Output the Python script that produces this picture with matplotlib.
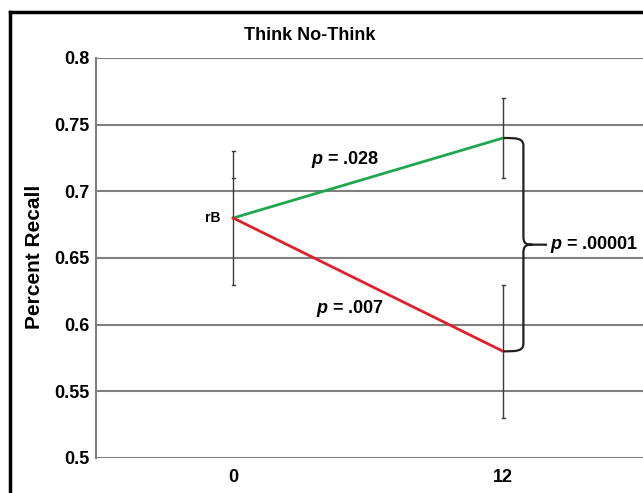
import matplotlib.pyplot as plt
from matplotlib.path import Path
from matplotlib.patches import PathPatch
from matplotlib.lines import Line2D

plt.rcParams['font.family'] = ['Liberation Sans', 'DejaVu Sans']
plt.rcParams['font.sans-serif'] = ['Liberation Sans']
plt.rcParams['mathtext.fontset'] = 'custom'
plt.rcParams['mathtext.bfit'] = 'sans:italic:bold'

# data
sessions = [0, 12]
think = [0.68, 0.74]
no_think = [0.68, 0.58]
think_err_lo = [0.71, 0.71]
think_err_hi = [0.73, 0.77]
no_think_err_lo = [0.63, 0.53]
no_think_err_hi = [0.65, 0.63]
yticks = [0.5, 0.55, 0.6, 0.65, 0.7, 0.75, 0.8]
ytick_labels = ['0.5', '0.55', '0.6', '0.65', '0.7', '0.75', '0.8']
p_labels = [' = .028', ' = .007', ' = .00001']

W, H = 643, 493
fig = plt.figure(figsize=(W / 100, H / 100), dpi=100)
ax = fig.add_axes([96 / W, 1 - 458 / H, (646 - 96) / W, (458 - 58) / H])

# error bars
grey = '#3a3a3a'
ax.vlines(sessions, think_err_lo, think_err_hi, color=grey, lw=1, zorder=3)
ax.vlines(sessions, no_think_err_lo, no_think_err_hi, color=grey, lw=1, zorder=3)
ax.vlines([0], [0.65], [0.71], color=grey, lw=1, zorder=3)
caps = [(0, think_err_lo[0]), (0, think_err_hi[0]), (0, no_think_err_lo[0]),
        (12, think_err_lo[1]), (12, think_err_hi[1]),
        (12, no_think_err_lo[1]), (12, no_think_err_hi[1])]
for x, y in caps:
    ax.plot([x - 0.07, x + 0.07], [y, y], color=grey, lw=1)

ax.plot(sessions, think, color='#1fa64f', lw=2, zorder=4)
ax.plot(sessions, no_think, color='#e0202a', lw=2, zorder=4)

ax.text(-0.55, 0.68, 'rB', fontsize=10, fontweight='bold', ha='right', va='center')
ax.text(5.0, 0.724, r'$\mathbfit{p}$' + p_labels[0], fontsize=13, fontweight='bold', ha='center', va='center')
ax.text(5.2, 0.612, r'$\mathbfit{p}$' + p_labels[1], fontsize=13, fontweight='bold', ha='center', va='center')
ax.text(14.1, 0.66, r'$\mathbfit{p}$' + p_labels[2], fontsize=13, fontweight='bold', ha='left', va='center')

# curly brace between the two session-12 means
top, bot = think[1], no_think[1]
mid = (top + bot) / 2
xb = 12.9
verts = [(12.0, top), (12.6, top), (xb, top), (xb, top - 0.006),
         (xb, mid + 0.006),
         (xb, mid), (13.1, mid), (13.3, mid),
         (13.95, mid),
         (13.3, mid), (13.1, mid), (xb, mid), (xb, mid - 0.006),
         (xb, bot + 0.006),
         (xb, bot), (12.6, bot), (12.0, bot)]
codes = [Path.MOVETO, Path.CURVE4, Path.CURVE4, Path.CURVE4,
         Path.LINETO,
         Path.CURVE4, Path.CURVE4, Path.CURVE4,
         Path.LINETO,
         Path.MOVETO, Path.CURVE4, Path.CURVE4, Path.CURVE4,
         Path.LINETO,
         Path.CURVE4, Path.CURVE4, Path.CURVE4]
ax.add_patch(PathPatch(Path(verts, codes), fill=False, lw=1.6, color='#202020', zorder=5))

ax.set_xlim(-6.1, 18.35)
ax.set_ylim(0.5, 0.8)
ax.set_yticks(yticks)
ax.set_yticklabels(ytick_labels)
ax.set_xticks(sessions)
ax.set_xticklabels([str(s) for s in sessions])
ax.tick_params(axis='y', length=0, labelsize=13, pad=5)
ax.tick_params(axis='x', length=0, labelsize=13, pad=8)
for lab in ax.get_xticklabels() + ax.get_yticklabels():
    lab.set_fontweight('bold')
ax.grid(axis='y', color='#7f7f7f', lw=1.5)
ax.set_axisbelow(True)
for s in ['top', 'right', 'bottom']:
    ax.spines[s].set_visible(False)
ax.spines['left'].set_color('#7f7f7f')
ax.spines['left'].set_linewidth(1.5)

fig.text(35 / W, 1 - 257 / H, 'Percent Recall', fontsize=15, fontweight='bold',
         rotation=90, ha='center', va='center')
fig.text(310 / W, 1 - 36 / H, 'Think No-Think', fontsize=13, fontweight='bold', ha='center', va='center')

# outer frame (left and top edges visible)
fig.add_artist(Line2D([9.5 / W, 9.5 / W], [0, 1 - 12 / H], color='black', lw=2.5))
fig.add_artist(Line2D([9.5 / W, 1], [1 - 12 / H, 1 - 12 / H], color='black', lw=2.5))

fig.savefig('out.png', dpi=100)
